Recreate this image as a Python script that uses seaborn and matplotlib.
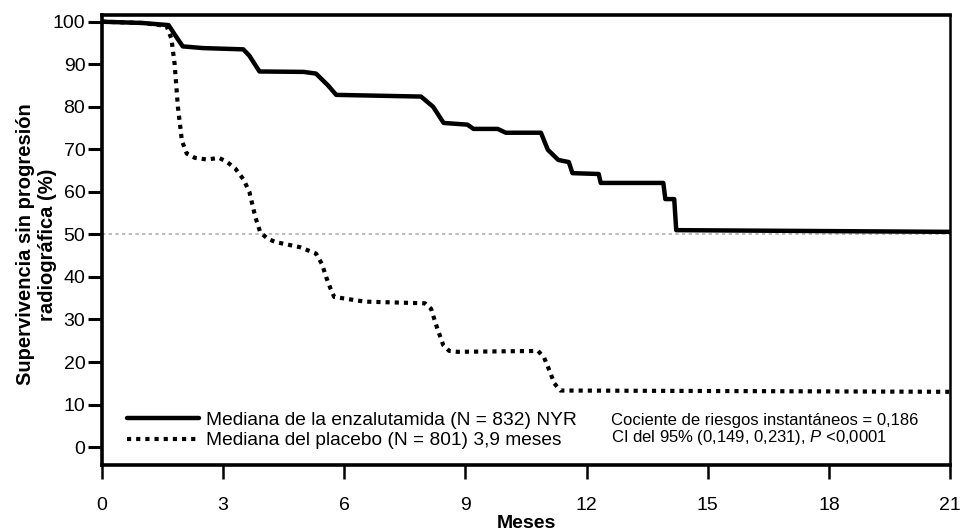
import seaborn as sns
import matplotlib.pyplot as plt
import pandas as pd
import numpy as np

# Kaplan-Meier curves (months, % without progression)
enza_months = [0, 1.0, 1.65, 1.8, 2.0, 2.5, 3.5, 3.65, 3.9, 5.0, 5.3, 5.6, 5.8,
               7.9, 8.2, 8.46, 9.05, 9.2, 9.8, 10.0, 10.87, 11.04, 11.3, 11.56,
               11.65, 12.3, 12.35, 13.9, 13.95, 14.17, 14.22, 21]
enza_surv = [100, 99.7, 99.2, 97, 94.2, 93.8, 93.5, 92, 88.3, 88.2, 87.8, 85, 82.8,
             82.4, 80, 76.2, 75.8, 74.8, 74.8, 73.9, 73.9, 69.9, 67.5, 67.0,
             64.4, 64.2, 62.1, 62.1, 58.3, 58.3, 51.0, 50.6]

plac_months = [0, 1.0, 1.6, 1.72, 1.8, 1.88, 1.98, 2.1, 2.3, 2.6, 2.9, 3.1, 3.3,
               3.5, 3.65, 3.8, 3.92, 4.1, 4.3, 4.9, 5.3, 5.45, 5.55, 5.65, 5.75,
               6.5, 8.0, 8.15, 8.3, 8.45, 8.6, 8.8, 10.8, 10.95, 11.08, 11.2,
               11.35, 21]
plac_surv = [100, 99.7, 99.0, 96, 90, 80, 72, 69, 68, 67.6, 68, 67, 65.5,
             63, 60, 54, 50.5, 49, 48.2, 47, 45.5, 43, 40, 37.5, 35.3,
             34.2, 33.8, 32.5, 28, 24, 22.6, 22.4, 22.6, 21, 18, 15,
             13.3, 13.0]

enza_label = "Mediana de la enzalutamida (N = 832) NYR"
plac_label = "Mediana del placebo (N = 801) 3,9 meses"
hr_text = "Cociente de riesgos instantáneos = 0,186\nCI del 95% (0,149, 0,231), $\\it{P}$ <0,0001"

x_ticks = [0, 3, 6, 9, 12, 15, 18, 21]
y_ticks = [0, 10, 20, 30, 40, 50, 60, 70, 80, 90, 100]

enza = pd.DataFrame({"Meses": enza_months, "surv": enza_surv})
plac = pd.DataFrame({"Meses": plac_months, "surv": plac_surv})

sns.set_theme(style="ticks")
plt.rcParams["font.family"] = ["Liberation Sans", "DejaVu Sans"]
plt.rcParams["mathtext.fontset"] = "custom"
plt.rcParams["mathtext.it"] = "Liberation Sans:italic"
plt.rcParams["text.color"] = "black"
plt.rcParams["axes.labelcolor"] = "black"
plt.rcParams["xtick.color"] = "black"
plt.rcParams["ytick.color"] = "black"

fig = plt.figure(figsize=(9.61, 5.32), dpi=100)
ax = fig.add_axes([0.1061, 0.126, 0.8825, 0.846])

# median reference line
ax.axhline(50, color="#b0b0b0", lw=1.2, ls=(0, (2, 2)), zorder=1)

sns.lineplot(data=enza, x="Meses", y="surv", ax=ax, color="black", lw=3.2,
             label=enza_label, zorder=3)
sns.lineplot(data=plac, x="Meses", y="surv", ax=ax, color="black", lw=3.0,
             ls=(0, (1, 1.2)), label=plac_label, zorder=3)

ax.set_xlim(0, 21)
ax.set_ylim(-4.2, 101.6)
ax.set_xticks(x_ticks)
ax.set_yticks(y_ticks)
ax.tick_params(axis="x", length=10, width=1.8, pad=13, labelsize=14, color="black")
ax.tick_params(axis="y", length=10, width=2.2, pad=2, labelsize=14, color="black")

for side in ["left", "bottom", "top"]:
    ax.spines[side].set_linewidth(2.6)
    ax.spines[side].set_color("black")
ax.spines["right"].set_linewidth(1.8)
ax.spines["right"].set_color("black")

ax.set_xlabel("Meses", fontsize=14, fontweight="bold", labelpad=0.5)
ax.set_ylabel("Supervivencia sin progresión\nradiográfica (%)", fontsize=14.5,
              fontweight="bold", linespacing=1.2)
ax.yaxis.set_label_coords(-0.053, 0.49)

leg = ax.legend(loc="lower left", bbox_to_anchor=(0.03, 0.035), frameon=False,
                fontsize=13.8, handlelength=3.75, handletextpad=0.35,
                labelspacing=0.14, borderpad=0, borderaxespad=0)
for t in leg.get_texts():
    t.set_color("black")

ax.text(12.6, 4.0, hr_text, fontsize=12, va="center", ha="left", linespacing=1.0)

fig.savefig("out.png", dpi=100)
